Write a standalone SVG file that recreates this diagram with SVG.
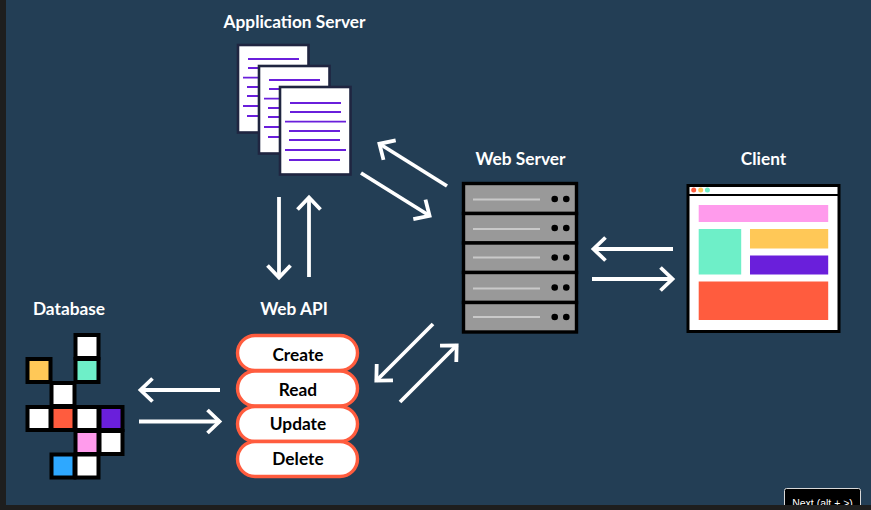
<svg xmlns="http://www.w3.org/2000/svg" width="871" height="510" viewBox="0 0 871 510">
<style>
text{font-family:"Lato","Liberation Sans",sans-serif;font-weight:700;text-anchor:middle}
.lab{fill:#fff;font-size:17.300px}
.pt{fill:#000;font-size:17.300px}
.doc{fill:#fff;stroke:#1f2540;stroke-width:2.600}
.dl{stroke:#6a1fdb;stroke-width:1.800}
.row{fill:#999;stroke:#000;stroke-width:3.400}
.sl{stroke:#c9c9c9;stroke-width:2.200}
.cell{stroke:#000;stroke-width:4}
.pill{fill:#fff;stroke:#ff5c3e;stroke-width:3.400}
.con{stroke:#fff;stroke-width:3.800;fill:none;marker-end:url(#h)}
</style>
<defs>
<marker id="h" markerUnits="userSpaceOnUse" markerWidth="30" markerHeight="30" viewBox="-20 -15 30 30" refX="0" refY="0" orient="auto">
<path d="M-12.500-11.500L-.5 0L-12.500 11.500" fill="none" stroke="#fff" stroke-width="3.800"/>
</marker>
<g id="lines">
<path class="dl" d="M0 17H51M0 26H51M-5 35.700H56M-1 45H50M-1 54H50M-5 64H56M-1 74H50"/>
</g>
</defs>
<rect width="871" height="510" fill="#233e55"/>
<g id="app-server">
<text class="lab" x="294.500" y="28">Application Server</text>
<rect class="doc" x="238" y="45" width="70.500" height="87.500"/><use href="#lines" x="248" y="42"/>
<rect class="doc" x="259" y="66" width="70.500" height="87.500"/><use href="#lines" x="269" y="63"/>
<rect class="doc" x="280" y="87" width="70.500" height="87.500"/><use href="#lines" x="290" y="86"/>
</g>
<g id="web-server">
<text class="lab" x="520.500" y="165">Web Server</text>
<rect class="row" x="463.500" y="183.500" width="113" height="30"/>
<rect class="row" x="463.500" y="213.500" width="113" height="29.500"/>
<rect class="row" x="463.500" y="243" width="113" height="29.500"/>
<rect class="row" x="463.500" y="272.500" width="113" height="30"/>
<rect class="row" x="463.500" y="302.500" width="113" height="29.500"/>
<path class="sl" d="M473 199.500H540M473 229H540M473 257.500H540M473 288.500H540M473 317H540"/>
<g fill="#000"><circle cx="554.700" cy="199" r="3.300"/><circle cx="566.300" cy="199" r="3.300"/><circle cx="554.700" cy="228" r="3.300"/><circle cx="566.300" cy="228" r="3.300"/><circle cx="554.700" cy="257.500" r="3.300"/><circle cx="566.300" cy="257.500" r="3.300"/><circle cx="554.700" cy="287.500" r="3.300"/><circle cx="566.300" cy="287.500" r="3.300"/><circle cx="554.700" cy="317" r="3.300"/><circle cx="566.300" cy="317" r="3.300"/></g>
</g>
<g id="client">
<text class="lab" x="763.500" y="165">Client</text>
<rect x="688" y="185.500" width="151" height="146" fill="#fff" stroke="#000" stroke-width="3"/>
<path d="M688 195H839" stroke="#000" stroke-width="2"/>
<circle cx="693.700" cy="190" r="2.500" fill="#ff5c3e"/><circle cx="700.700" cy="190" r="2.500" fill="#ffc857"/><circle cx="707.400" cy="190" r="2.500" fill="#6eefc8"/>
<rect x="698.700" y="205" width="129.500" height="17" fill="#ff9bec"/>
<rect x="698.700" y="229" width="42.500" height="45.500" fill="#6eefc8"/>
<rect x="750" y="229" width="78.200" height="19.500" fill="#ffc857"/>
<rect x="750" y="255.500" width="78.200" height="19" fill="#6a1fdb"/>
<rect x="698.700" y="281.500" width="129.500" height="38.500" fill="#ff5c3e"/>
</g>
<g id="web-api">
<text class="lab" x="294" y="315">Web API</text>
<rect class="pill" x="237.500" y="335.500" width="120" height="35" rx="17.500"/>
<rect class="pill" x="237.500" y="371" width="120" height="35" rx="17.500"/>
<rect class="pill" x="237.500" y="406.500" width="120" height="35" rx="17.500"/>
<rect class="pill" x="237.500" y="441.500" width="120" height="35" rx="17.500"/>
<text class="pt" x="298" y="361">Create</text>
<text class="pt" x="298" y="395.500">Read</text>
<text class="pt" x="298" y="430">Update</text>
<text class="pt" x="298" y="464.500">Delete</text>
</g>
<g id="database">
<text class="lab" x="69" y="315">Database</text>
<g class="cell">
<rect x="75.500" y="335" width="23" height="23" fill="#fff"/>
<rect x="27.500" y="359" width="23" height="23" fill="#ffc857"/>
<rect x="75.500" y="359" width="23" height="23" fill="#6eefc8"/>
<rect x="51.500" y="383" width="23" height="23" fill="#fff"/>
<rect x="27.500" y="407" width="23" height="23" fill="#fff"/>
<rect x="51.500" y="407" width="23" height="23" fill="#ff5c3e"/>
<rect x="75.500" y="407" width="23" height="23" fill="#fff"/>
<rect x="99.500" y="407" width="23" height="23" fill="#6a1fdb"/>
<rect x="75.500" y="431" width="23" height="23" fill="#ff9bec"/>
<rect x="99.500" y="431" width="23" height="23" fill="#fff"/>
<rect x="51.500" y="454.500" width="23" height="23" fill="#2ea8ff"/>
<rect x="75.500" y="454.500" width="23" height="23" fill="#fff"/>
</g>
</g>
<g id="connectors">
<path class="con" d="M447 186L379 143.500"/>
<path class="con" d="M361 173L430 216"/>
<path class="con" d="M279 197V278"/>
<path class="con" d="M309 277V197"/>
<path class="con" d="M673 249H593"/>
<path class="con" d="M592 279H673"/>
<path class="con" d="M433 324L376 381"/>
<path class="con" d="M400 402L457 345"/>
<path class="con" d="M220 390H140"/>
<path class="con" d="M139 421.500H220"/>
</g>
<g id="next-button">
<rect x="784.500" y="488.500" width="76" height="24" rx="2" fill="#000" stroke="#d8d8d8"/>
<text x="822.500" y="507" fill="#fff" style="font-family:'Liberation Sans',sans-serif;font-size:10.500px;font-weight:400">Next (alt + &gt;)</text>
</g>
<path d="M0 0H6V505H871V510H0Z" fill="#1e1e1e"/>
</svg>
